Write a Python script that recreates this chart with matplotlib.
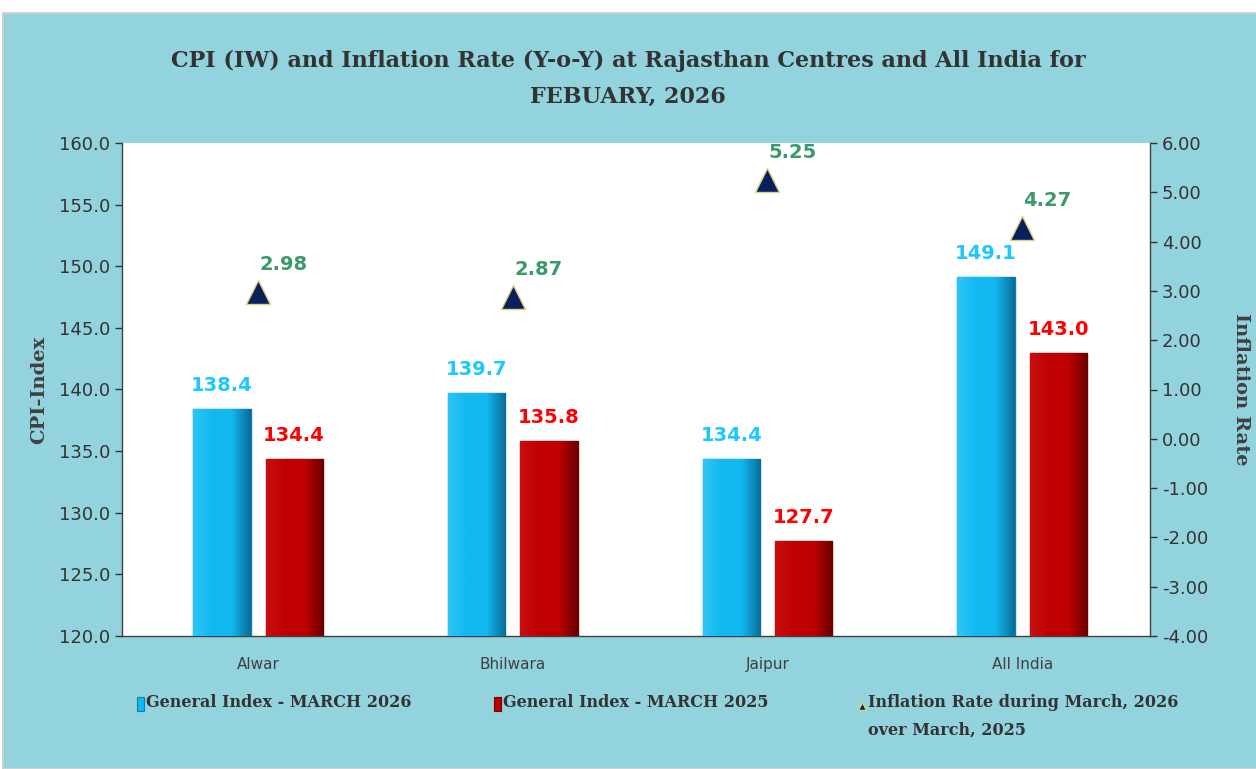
import matplotlib
matplotlib.use('Agg')
import matplotlib.pyplot as plt
import numpy as np
from matplotlib.patches import Rectangle
from matplotlib.lines import Line2D
from matplotlib.colors import LinearSegmentedColormap

# Datos
centros = ['Alwar', 'Bhilwara', 'Jaipur', 'All India']
indice_2026 = [138.4, 139.7, 134.4, 149.1]
indice_2025 = [134.4, 135.8, 127.7, 143.0]
inflacion = [2.98, 2.87, 5.25, 4.27]
etiquetas = ['General Index - MARCH 2026', 'General Index - MARCH 2025',
             'Inflation Rate during March, 2026\nover March, 2025']

fondo = '#93D3DE'
azul = '#12B8F0'
rojo = '#C00000'
gris = '#404040'
serif = ['DejaVu Serif']

W, H = 1256, 769
fig = plt.figure(figsize=(W / 100, H / 100), dpi=100)
fig.patch.set_facecolor('white')
fig.add_artist(Rectangle((3 / W, 0), 1, (H - 13) / H, transform=fig.transFigure,
                         facecolor=fondo, edgecolor='#D0D0D0', lw=1.5, zorder=-10))

ax = fig.add_axes([122 / W, 1 - 636 / H, 1028 / W, 493 / H])
ax.set_facecolor('white')
ax2 = ax.twinx()

x = np.arange(len(centros))
w = 0.225
off = 0.142

def degradado(barras, c_claro, c_medio, c_oscuro):
    # sombreado horizontal para dar algo de volumen a las barras
    cmap = LinearSegmentedColormap.from_list('g', [c_claro, c_medio, c_medio, c_oscuro])
    grad = np.linspace(0, 1, 64).reshape(1, -1)
    for b in barras:
        x0, y0 = b.get_x(), b.get_y()
        im = ax.imshow(grad, cmap=cmap, aspect='auto', zorder=3.5,
                       extent=(x0, x0 + b.get_width(), y0, y0 + b.get_height()))
        im.set_clip_path(b)

b1 = ax.bar(x - off, [v - 120 for v in indice_2026], w, bottom=120, color=azul,
            edgecolor='#0A7FB0', linewidth=1.0, zorder=3)
b2 = ax.bar(x + off, [v - 120 for v in indice_2025], w, bottom=120, color=rojo,
            edgecolor='#700000', linewidth=1.0, zorder=3)
degradado(b1, '#2CC6F5', '#12B8F0', '#0A6E99')
degradado(b2, '#C81010', '#C00000', '#6A0000')

for xi, v in zip(x - off, indice_2026):
    ax.annotate(f'{v:.1f}', (xi, v), xytext=(0, 10), textcoords='offset points',
                ha='center', va='bottom', color='#1EC8FF', fontsize=14, fontweight='bold')
for xi, v in zip(x + off, indice_2025):
    ax.annotate(f'{v:.1f}', (xi, v), xytext=(0, 10), textcoords='offset points',
                ha='center', va='bottom', color='#FF0000', fontsize=14, fontweight='bold')

ax2.plot(x, inflacion, linestyle='none', marker='^', markersize=17,
         markerfacecolor='#0B1F5C', markeredgecolor='#D6D67A', markeredgewidth=1, zorder=4)
for xi, v in zip(x, inflacion):
    ax2.annotate(f'{v:.2f}', (xi, v), xytext=(1, 13), textcoords='offset points',
                 ha='left', va='bottom', color='#3A9A6A', fontsize=14, fontweight='bold')

ax.set_xlim(-0.534, 3.502)
ax.set_ylim(120, 160)
ax.set_yticks(np.arange(120, 161, 5))
ax.set_yticklabels([f'{t:.1f}' for t in np.arange(120, 161, 5)])
ax2.set_ylim(-4, 6)
ax2.set_yticks(np.arange(-4, 7, 1))
ax2.set_yticklabels([f'{t:.2f}' for t in np.arange(-4, 7, 1)])
ax.set_xticks(x)
ax.set_xticklabels(centros, fontsize=11, color=gris)
ax.tick_params(axis='x', length=0, pad=15)

for a in (ax, ax2):
    a.tick_params(axis='y', labelsize=13, colors='#333333', length=5, width=1)
    for s in a.spines.values():
        s.set_visible(False)
ax.spines['left'].set_visible(True)
ax.spines['bottom'].set_visible(True)
ax2.spines['right'].set_visible(True)
for s in (ax.spines['left'], ax.spines['bottom'], ax2.spines['right']):
    s.set_color(gris)
    s.set_linewidth(1)

ax.set_ylabel('CPI-Index', family=serif, fontweight='bold', fontsize=14, color=gris, labelpad=8)
ax2.set_ylabel('Inflation Rate', family=serif, fontweight='bold', fontsize=14, color=gris,
               rotation=-90, labelpad=30)

fig.text(0.5, 1 - 79 / H, 'CPI (IW) and Inflation Rate (Y-o-Y) at Rajasthan Centres and All India for\nFEBUARY, 2026',
         ha='center', va='center', family=serif, fontweight='bold', fontsize=16,
         color='#333333', linespacing=1.85)

# Leyenda manual
ley_x = [140, 497, 862]
ley_y = 704
colores_ley = [(azul, '#0A7FB0'), (rojo, '#700000')]
for i, (px, txt) in enumerate(zip(ley_x, etiquetas)):
    if i < 2:
        fig.add_artist(Rectangle(((px - 3) / W, 1 - (ley_y + 7) / H), 7 / W, 14 / H,
                                 transform=fig.transFigure, facecolor=colores_ley[i][0],
                                 edgecolor=colores_ley[i][1], lw=0.8))
    else:
        fig.add_artist(Line2D([px / W], [1 - (ley_y + 2) / H], transform=fig.transFigure,
                              linestyle='none', marker='^', markersize=6,
                              markerfacecolor='#0B1F5C', markeredgecolor='#D6D67A'))
    fig.text((px + 6) / W, 1 - (ley_y - 10) / H, txt, ha='left', va='top', family=serif,
             fontweight='bold', fontsize=11.5, color='#333333', linespacing=1.85)

fig.savefig('out.png', dpi=100, facecolor=fig.get_facecolor())
